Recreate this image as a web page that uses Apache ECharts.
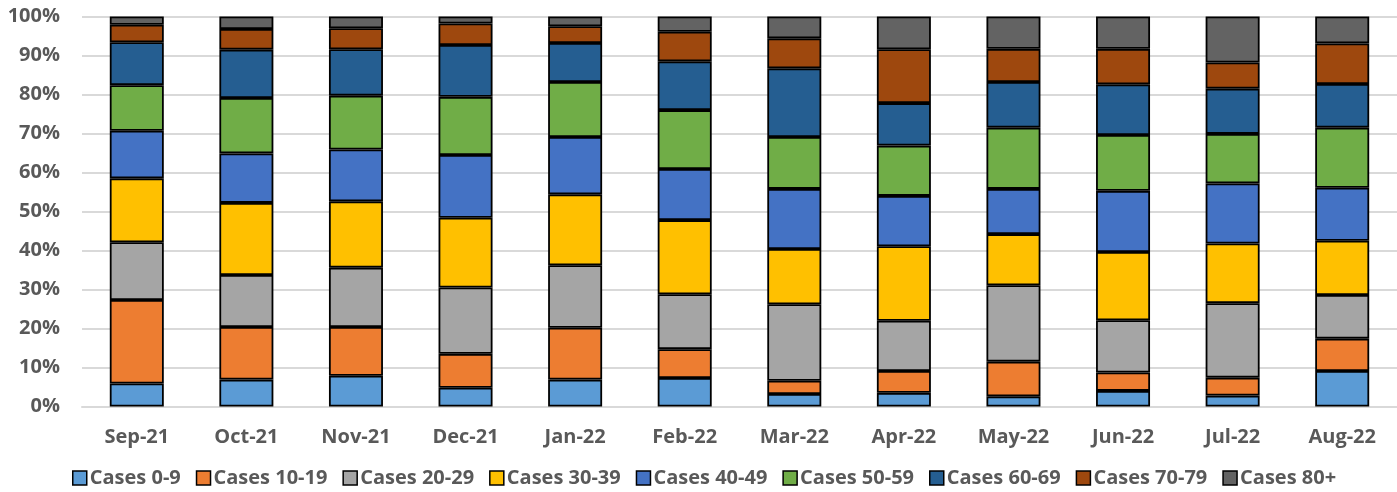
<!DOCTYPE html>
<html>
<head>
<meta charset="utf-8">
<script src="https://cdn.jsdelivr.net/npm/echarts@6/dist/echarts.min.js"></script>
<style>
html,body{margin:0;padding:0;background:#fff;}
#chart{width:1397px;height:492px;}
</style>
</head>
<body>
<div id="chart"></div>
<script>
const categories = ['Sep-21','Oct-21','Nov-21','Dec-21','Jan-22','Feb-22','Mar-22','Apr-22','May-22','Jun-22','Jul-22','Aug-22'];
const seriesNames = ['Cases 0-9','Cases 10-19','Cases 20-29','Cases 30-39','Cases 40-49','Cases 50-59','Cases 60-69','Cases 70-79','Cases 80+'];
const cases0_9   = [5.9, 6.9, 7.9, 4.8, 6.9, 7.3, 3.2, 3.5, 2.6, 4.0, 2.8, 9.1];
const cases10_19 = [21.4, 13.5, 12.5, 8.7, 13.3, 7.4, 3.4, 5.6, 8.9, 4.7, 4.6, 8.3];
const cases20_29 = [14.8, 13.3, 15.2, 17.0, 16.0, 14.1, 19.6, 12.9, 19.6, 13.4, 19.1, 11.2];
const cases30_39 = [16.4, 18.5, 17.0, 17.9, 18.2, 19.0, 14.2, 19.1, 13.1, 17.5, 15.3, 13.9];
const cases40_49 = [12.2, 12.7, 13.3, 16.1, 14.7, 13.1, 15.4, 12.9, 11.6, 15.7, 15.4, 13.6];
const cases50_59 = [11.7, 14.2, 13.8, 14.9, 14.1, 15.1, 13.3, 12.9, 15.7, 14.3, 12.7, 15.4];
const cases60_69 = [11.0, 12.4, 11.9, 13.3, 10.0, 12.5, 17.6, 10.9, 11.7, 13.0, 11.6, 11.2];
const cases70_79 = [4.5, 5.3, 5.4, 5.5, 4.3, 7.6, 7.7, 13.8, 8.5, 9.1, 6.7, 10.4];
const cases80p   = [2.1, 3.2, 3.0, 1.8, 2.5, 3.9, 5.6, 8.4, 8.3, 8.3, 11.8, 6.9];
const yTicks = [0,10,20,30,40,50,60,70,80,90,100];

const values = [cases0_9, cases10_19, cases20_29, cases30_39, cases40_49, cases50_59, cases60_69, cases70_79, cases80p];
const colors = ['#5B9BD5','#ED7D31','#A5A5A5','#FFC000','#4472C4','#70AD47','#255E91','#9E480E','#636363'];
const FONT = '"Open Sans", "Liberation Sans", sans-serif';

const chart = echarts.init(document.getElementById('chart'));
chart.setOption({
  animation: false,
  backgroundColor: '#ffffff',
  color: colors,
  grid: {left: 82, right: 0, top: 16.5, bottom: 85.5, outerBoundsMode: 'none', containLabel: false},
  legend: {
    data: seriesNames,
    bottom: 4,
    left: 72,
    padding: 0,
    itemWidth: 14,
    itemHeight: 14,
    itemGap: 15,
    icon: 'rect',
    itemStyle: {borderColor: '#000', borderWidth: 1.5},
    textStyle: {fontFamily: FONT, fontWeight: 'bold', fontSize: 20, color: '#595959', padding: [0,0,0,-2]}
  },
  xAxis: {
    type: 'category',
    data: categories,
    axisTick: {show: false},
    axisLine: {lineStyle: {color: '#d9d9d9', width: 2}},
    axisLabel: {fontFamily: FONT, fontWeight: 'bold', fontSize: 20, color: '#595959', margin: 21}
  },
  yAxis: {
    type: 'value',
    min: yTicks[0],
    max: yTicks[yTicks.length-1],
    interval: 10,
    axisLine: {show: false},
    axisTick: {show: false},
    splitLine: {lineStyle: {color: '#d9d9d9', width: 2}},
    axisLabel: {fontFamily: FONT, fontWeight: 'bold', fontSize: 20, color: '#595959', margin: 22, formatter: '{value}%'}
  },
  series: seriesNames.map((name, i) => ({
    name: name,
    type: 'bar',
    stack: 'total',
    barWidth: 54,
    data: values[i],
    itemStyle: {color: colors[i], borderColor: '#000', borderWidth: 1.8}
  }))
});
</script>
</body>
</html>
